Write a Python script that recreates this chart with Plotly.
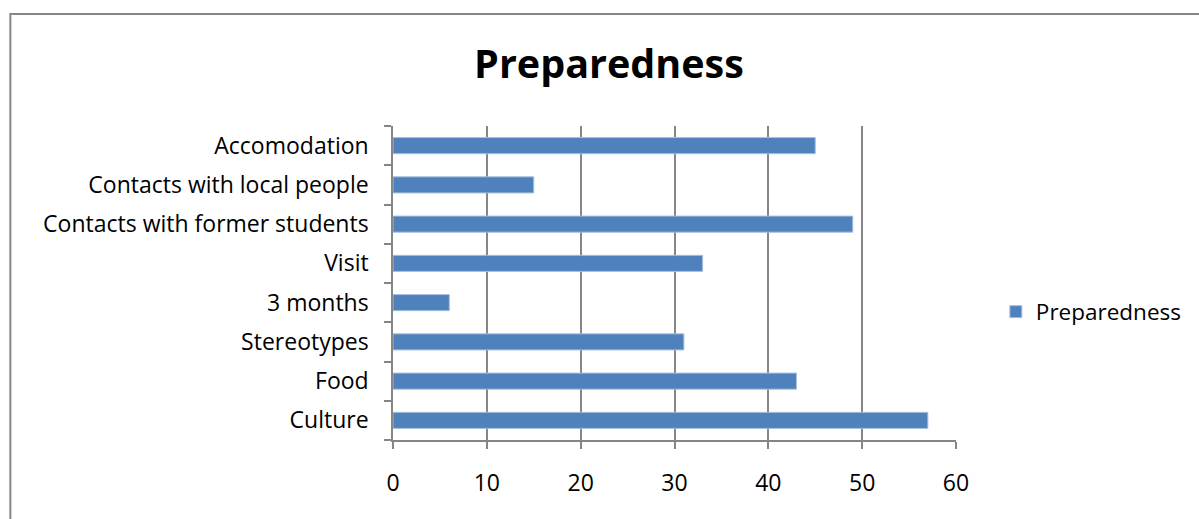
import plotly.graph_objects as go

# Survey categories (top to bottom) and their counts
categories = [
    "Accomodation",
    "Contacts with local people",
    "Contacts with former students",
    "Visit",
    "3 months",
    "Stereotypes",
    "Food",
    "Culture",
]
values = [45, 15, 49, 33, 6, 31, 43, 57]
series_name = "Preparedness"
x_ticks = [0, 10, 20, 30, 40, 50, 60]

W, H = 1199, 519
L, R, T, B = 393, 958, 126, 440  # plot-area edges in pixels
FONT = "'Open Sans', sans-serif"
GRID = "#868686"


def px_x(px):
    return (px - L) / (R - L)


def px_y(py):
    return (B - py) / (B - T)


fig = go.Figure(
    go.Bar(
        x=values,
        y=categories,
        orientation="h",
        name=series_name,
        marker=dict(color="#4F81BD", line=dict(color="#A7C0DE", width=1)),
        showlegend=True,
    )
)

fig.update_layout(
    width=W,
    height=H,
    margin=dict(l=L, r=W - R, t=T, b=H - B),
    paper_bgcolor="white",
    plot_bgcolor="white",
    bargap=0.59,
    font=dict(family=FONT, size=23, color="black"),
    title=dict(
        text="<b>Preparedness</b>",
        font=dict(family=FONT, size=39.5, color="black"),
        x=609 / W,
        xanchor="center",
        y=1 - 64 / H,
        yanchor="middle",
    ),
    legend=dict(
        x=px_x(998),
        y=px_y(312),
        xanchor="left",
        yanchor="middle",
        font=dict(family=FONT, size=22.5),
        bgcolor="rgba(0,0,0,0)",
        itemwidth=30,
    ),
    xaxis=dict(
        range=[0, 60],
        tickvals=x_ticks,
        showgrid=True,
        gridcolor=GRID,
        gridwidth=1.5,
        zeroline=False,
        showline=True,
        linecolor=GRID,
        linewidth=1.5,
        ticks="outside",
        ticklen=7,
        tickcolor=GRID,
        tickwidth=1.5,
        tickfont=dict(size=23),
        ticklabelstandoff=15,
    ),
    yaxis=dict(
        categoryorder="array",
        categoryarray=categories[::-1],
        showgrid=False,
        showline=True,
        linecolor=GRID,
        linewidth=1.5,
        ticks="outside",
        tickson="boundaries",
        ticklen=7,
        tickcolor=GRID,
        tickwidth=1.5,
        tickfont=dict(size=23),
        ticklabelstandoff=18,
    ),
    shapes=[
        dict(
            type="rect",
            xref="paper",
            yref="paper",
            x0=px_x(9),
            x1=px_x(W + 20),
            y0=px_y(H + 20),
            y1=px_y(14),
            line=dict(color=GRID, width=2),
            fillcolor="rgba(0,0,0,0)",
            layer="below",
        )
    ],
)

fig.write_html("out.html")
